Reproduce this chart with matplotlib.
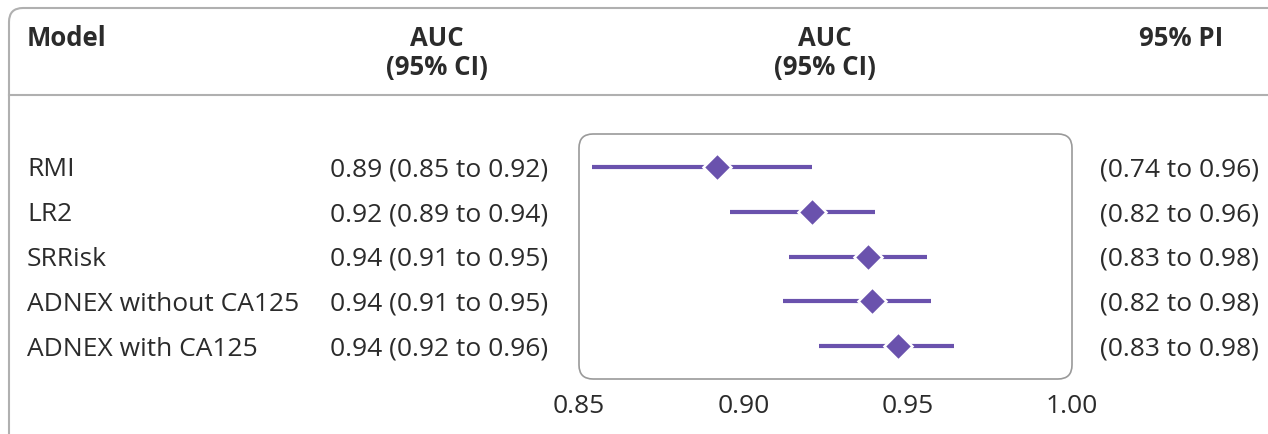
import matplotlib.pyplot as plt
import matplotlib.transforms as mtransforms
from matplotlib.patches import FancyBboxPatch
from matplotlib.lines import Line2D

# data
models = ['RMI', 'LR2', 'SRRisk', 'ADNEX without CA125', 'ADNEX with CA125']
auc = [0.892, 0.921, 0.938, 0.939, 0.947]
ci_low = [0.854, 0.896, 0.914, 0.912, 0.923]
ci_high = [0.921, 0.940, 0.956, 0.957, 0.964]
auc_text = ['0.89 (0.85 to 0.92)', '0.92 (0.89 to 0.94)', '0.94 (0.91 to 0.95)',
            '0.94 (0.91 to 0.95)', '0.94 (0.92 to 0.96)']
pi_text = ['(0.74 to 0.96)', '(0.82 to 0.96)', '(0.83 to 0.98)',
           '(0.82 to 0.98)', '(0.83 to 0.98)']
xticks = [0.85, 0.90, 0.95, 1.00]
xtick_labels = ['0.85', '0.90', '0.95', '1.00']

W, H = 1268, 434
plt.rcParams['font.family'] = ['Open Sans', 'DejaVu Sans']
text_col = '#2b2b2b'
purple = '#6a52ad'
frame_col = '#b0b0b0'
fs = 19

fig = plt.figure(figsize=(W / 100, H / 100), dpi=100)

def fx(px):
    return px / W

def fy(py):
    return 1 - py / H

# outer rounded frame (runs off the right and bottom edge)
outer = FancyBboxPatch((0.09, -0.3), 13.5, 4.56, boxstyle='round,pad=0,rounding_size=0.14',
                       transform=fig.dpi_scale_trans, fc='none', ec=frame_col, lw=1.5)
fig.patches.append(outer)
fig.add_artist(Line2D([fx(9), 1], [fy(95), fy(95)], transform=fig.transFigure,
                      color=frame_col, lw=1.5))

# header
hdr = dict(fontsize=18.5, fontweight='bold', color=text_col, va='center')
fig.text(fx(27), fy(38), 'Model', ha='left', **hdr)
fig.text(fx(437), fy(38), 'AUC', ha='center', **hdr)
fig.text(fx(437), fy(68), '(95% CI)', ha='center', **hdr)
fig.text(fx(825), fy(38), 'AUC', ha='center', **hdr)
fig.text(fx(825), fy(68), '(95% CI)', ha='center', **hdr)
fig.text(fx(1181), fy(38), '95% PI', ha='center', **hdr)

# forest panel
ax = fig.add_axes([fx(579), fy(379), fx(1072) - fx(579), fy(134) - fy(379)])
ax.set_xlim(0.85, 1.00)
ax.set_ylim(len(models) - 0.27, -0.73)
for s in ax.spines.values():
    s.set_visible(False)
ax.patch.set_visible(False)

rows = list(range(len(models)))
ax.hlines(rows, ci_low, ci_high, color=purple, lw=3)
ax.plot(auc, rows, 'D', color=purple, ms=14, mec='white', mew=1.8, ls='none')

ax.set_yticks([])
ax.set_xticks(xticks)
ax.set_xticklabels(xtick_labels)
ax.tick_params(axis='x', which='major', length=0, pad=11, labelsize=fs, labelcolor=text_col)
ax.set_xticks([0.90, 0.95], minor=True)
ax.tick_params(axis='x', which='minor', length=6, width=1, color=frame_col)

# rounded box around the panel
pos = ax.get_position()
box = FancyBboxPatch((pos.x0 * W / 100, pos.y0 * H / 100), pos.width * W / 100, pos.height * H / 100,
                     boxstyle='round,pad=0,rounding_size=0.14', transform=fig.dpi_scale_trans,
                     fc='none', ec='#9a9a9a', lw=1.2)
fig.patches.append(box)

# table columns share the panel's row positions
trans = mtransforms.blended_transform_factory(fig.transFigure, ax.transData)
body = dict(transform=trans, va='center_baseline', fontsize=fs, color=text_col)
for i, name in enumerate(models):
    ax.text(fx(27), i, name, ha='left', **body)
    ax.text(fx(548), i, auc_text[i], ha='right', **body)
    ax.text(fx(1100), i, pi_text[i], ha='left', **body)

fig.savefig('out.png', dpi=100)
